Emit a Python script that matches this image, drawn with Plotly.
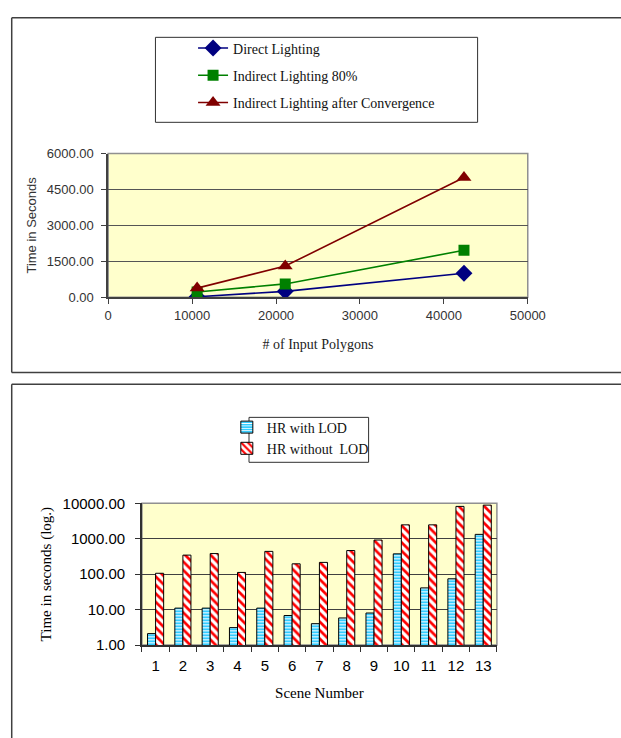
import plotly.graph_objects as go

W, H = 621, 738

# ---------- data: top chart ----------
polygons = [10600, 21100, 42400]
direct_lighting = [20, 245, 1000]
indirect_80 = [215, 555, 1960]
indirect_conv = [380, 1300, 5000]

# ---------- data: bottom chart ----------
scenes = [str(i) for i in range(1, 14)]
hr_with_lod = [2.1, 11, 11, 3.1, 11, 6.8, 4.0, 5.8, 8.0, 375, 41, 74, 1330]
hr_without_lod = [106, 345, 382, 112, 440, 196, 215, 465, 920, 2470, 2470, 8200, 8900]

serif = "Liberation Serif, Times New Roman, serif"
sans = "Liberation Sans, Arial, sans-serif"


def px_x(p):
    return p / W


def px_y(p):
    return 1 - p / H


fig = go.Figure()

fig.add_trace(go.Scatter(
    x=polygons, y=direct_lighting, name="Direct Lighting", mode="lines+markers",
    line=dict(color="#000080", width=1.6),
    marker=dict(symbol="diamond", size=13, color="#000080"),
    xaxis="x", yaxis="y", legend="legend", legendgroup="a"))
fig.add_trace(go.Scatter(
    x=polygons, y=indirect_80, name="Indirect Lighting 80%", mode="lines+markers",
    line=dict(color="#008000", width=1.6),
    marker=dict(symbol="square", size=11, color="#008000"),
    xaxis="x", yaxis="y", legend="legend", legendgroup="b"))
fig.add_trace(go.Scatter(
    x=polygons, y=indirect_conv, name="Indirect Lighting after Convergence", mode="lines+markers",
    line=dict(color="#800000", width=1.6),
    marker=dict(symbol="triangle-up", size=13, color="#800000"),
    xaxis="x", yaxis="y", legend="legend", legendgroup="c"))

fig.add_trace(go.Bar(
    x=scenes, y=hr_with_lod, name="HR with LOD",
    marker=dict(color="#33CCFF", line=dict(color="black", width=1),
                pattern=dict(shape="-", fgcolor="white", bgcolor="#33CCFF",
                             size=3, solidity=0.35, fillmode="replace")),
    xaxis="x2", yaxis="y2", legend="legend2"))
fig.add_trace(go.Bar(
    x=scenes, y=hr_without_lod, name="HR without  LOD",
    marker=dict(color="#FF0000", line=dict(color="black", width=1),
                pattern=dict(shape="\\", fgcolor="#FF0000", bgcolor="white",
                             size=6, solidity=0.45, fillmode="replace")),
    xaxis="x2", yaxis="y2", legend="legend2"))

frame = dict(color="#404040", width=1.5)


def seg(x0, y0, x1, y1, line):
    return dict(type="line", xref="paper", yref="paper",
                x0=px_x(x0), y0=px_y(y0), x1=px_x(x1), y1=px_y(y1), line=line)


shapes = [
    # outer frames (right side lies outside the picture)
    seg(8, 9, 640, 9, frame), seg(8, 9, 8, 372, frame), seg(8, 372, 640, 372, frame),
    seg(8, 384, 640, 384, frame), seg(8, 384, 8, 760, frame),
    # legend boxes
    dict(type="rect", xref="paper", yref="paper", x0=px_x(157), x1=px_x(491),
         y0=px_y(116), y1=px_y(29), line=dict(color="#303030", width=1)),
    dict(type="rect", xref="paper", yref="paper", x0=px_x(254), x1=px_x(378),
         y0=px_y(464), y1=px_y(418), line=dict(color="#303030", width=1)),
]

fig.update_layout(
    width=W, height=H, margin=dict(l=0, r=0, t=0, b=0),
    paper_bgcolor="white", plot_bgcolor="#FFFFCC",
    showlegend=True, barmode="group", bargap=0.41, bargroupgap=0,
    shapes=shapes,
    xaxis=dict(domain=[px_x(108), px_x(543)], anchor="y", range=[0, 50000],
               tickvals=[0, 10000, 20000, 30000, 40000, 50000], tickformat="d",
               ticks="outside", ticklen=5, tickcolor="#404040",
               showgrid=False, zeroline=False,
               showline=True, linecolor="#404040", linewidth=1.5, mirror=False,
               tickfont=dict(family=sans, size=13, color="#333333"),
               title=dict(text="# of Input Polygons", font=dict(family=serif, size=14, color="#222222"),
                          standoff=18)),
    yaxis=dict(domain=[px_y(295), px_y(148)], anchor="x", range=[0, 6000],
               tickvals=[0, 1500, 3000, 4500, 6000], tickformat=".2f",
               ticks="outside", ticklen=5, tickcolor="#404040", ticklabelstandoff=5,
               showgrid=True, gridcolor="#555555", gridwidth=1, zeroline=False,
               showline=True, linecolor="#404040", linewidth=1.5,
               tickfont=dict(family=sans, size=13, color="#333333"),
               title=dict(text="Time in Seconds", font=dict(family=sans, size=13, color="#333333"),
                          standoff=7)),
    xaxis2=dict(domain=[px_x(143), px_x(511)], anchor="y2", type="category",
                tickson="boundaries", ticks="outside", ticklen=5, tickcolor="#303030",
                ticklabelstandoff=6,
                showgrid=False, zeroline=False,
                showline=True, linecolor="#303030", linewidth=1.5,
                tickfont=dict(family=sans, size=15, color="black"),
                title=dict(text="Scene Number", font=dict(family=serif, size=15, color="black"),
                           standoff=15)),
    yaxis2=dict(domain=[px_y(651), px_y(506)], anchor="x2", type="log", range=[0, 4],
                tickvals=[1, 10, 100, 1000, 10000], tickformat=".2f",
                ticks="outside", ticklen=5, tickcolor="#303030", ticklabelstandoff=7,
                showgrid=True, gridcolor="#404040", gridwidth=1, zeroline=False,
                showline=True, linecolor="#303030", linewidth=1.5,
                tickfont=dict(family=sans, size=15, color="black"),
                title=dict(text="Time in seconds (log.)", font=dict(family=serif, size=15, color="black"),
                           standoff=7)),
    legend=dict(x=px_x(196), y=px_y(24), xanchor="left", yanchor="top",
                bgcolor="rgba(0,0,0,0)", borderwidth=0, traceorder="grouped",
                tracegroupgap=6, font=dict(family=serif, size=14, color="#111111")),
    legend2=dict(x=px_x(231), y=px_y(412), xanchor="left", yanchor="top",
                 bgcolor="rgba(0,0,0,0)", borderwidth=0, tracegroupgap=0,
                 font=dict(family=serif, size=14, color="#111111")),
)

# gray frame around plot areas
fig.add_shape(type="rect", xref="x domain", yref="y domain", x0=0, x1=1, y0=0, y1=1,
              line=dict(color="#909090", width=1.5), layer="below")
fig.add_shape(type="rect", xref="x2 domain", yref="y2 domain", x0=0, x1=1, y0=0, y1=1,
              line=dict(color="#909090", width=1.5), layer="below")

fig.write_html("out.html")
